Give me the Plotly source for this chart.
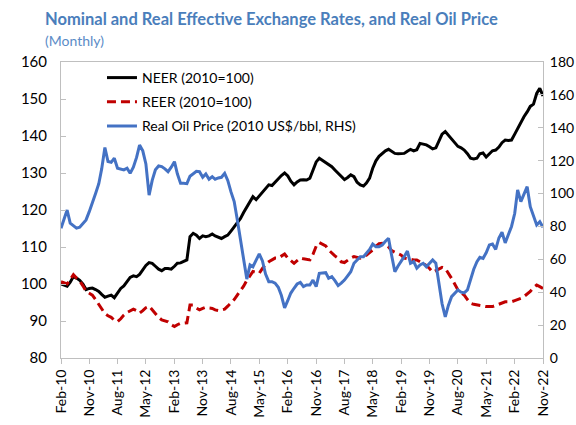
import pandas as pd
import plotly.graph_objects as go

months = pd.date_range("2010-02-01", periods=154, freq="MS")

neer = [100, 99.7, 99.4, 100.5, 102, 101.6, 101, 100, 98.5, 98.8,
        98.9, 98.5, 98, 97.2, 96.4, 96.7, 97, 96.3, 97.5, 98.8,
        99.5, 100.6, 101.8, 102.2, 102, 102.6, 103.8, 105, 105.8, 105.6,
        104.8, 104, 103.6, 104.2, 104.2, 104, 104.8, 105.6, 105.7, 106,
        106.5, 112.8, 113.7, 113.2, 112.3, 113, 112.8, 113, 113.5, 113,
        112.6, 112.3, 112.8, 113.2, 114.3, 115.5, 116.6, 117.7, 119.3, 120.9,
        122.5, 123.6, 122.8, 123.8, 124.7, 125.8, 126.8, 126.6, 127.5, 128.6,
        129.3, 130, 129.2, 127.8, 126.8, 127.6, 128.1, 128.2, 128.1, 128.6,
        131, 133, 134, 133.4, 132.6, 132.2, 131.7, 130.8, 130, 129,
        128.2, 128.8, 129.5, 129, 127.5, 126.8, 126.5, 127.3, 128.6, 131.3,
        133.3, 134.5, 135.3, 136, 136.4, 135.8, 135.3, 135.2, 135.3, 135.3,
        135.9, 136.4, 136, 136.3, 138, 137.8, 137.6, 137.1, 136.5, 136.8,
        138.5, 140.5, 141.2, 140.2, 139.4, 138.2, 137.2, 136.8, 136.2, 135.2,
        134, 133.8, 134, 135.2, 135.4, 134.3, 135.2, 136, 136.2, 137,
        138.2, 138.9, 138.8, 138.9, 140.5, 142, 143.8, 145.2, 146.5, 148,
        148.6, 151.5, 152.9, 150.8]

reer = [100.6, 100.3, 100, 101.2, 102.5, 101.6, 100.8, 99.5, 98, 97.5,
        97, 95.8, 94.5, 93, 92, 91.4, 91, 90.2, 89.8, 90.6,
        91.6, 92.3, 92.8, 93.2, 92.8, 92.1, 92.8, 93.6, 94, 93,
        92.1, 91, 90.3, 90, 89.8, 89, 88.5, 89, 89.4, 89.4,
        89.5, 94.3, 94.3, 93.5, 93, 93.4, 93.7, 93.5, 93.4, 93,
        92.8, 93, 93.2, 94, 94.8, 95.8, 97, 98.2, 99.4, 101,
        102.4, 103.4, 103.2, 102.9, 104.2, 105.3, 106, 106.6, 107, 107,
        107.5, 108.1, 107, 106.3, 105.6, 106.3, 107, 106.8, 106.6, 106.5,
        108, 110.2, 111.2, 110.8, 110.3, 109.2, 108.3, 107.6, 107, 106,
        105.8, 106.5, 107, 107.4, 107.2, 107, 107.4, 107.8, 108.5, 109.2,
        110.2, 110.9, 111, 110.5, 110, 109, 108.6, 108.4, 107.8, 107,
        106.8, 106.5, 106.5, 106.5, 106, 105.6, 105, 104.2, 103.2, 103.6,
        104, 104.5, 104.2, 103, 101.5, 100, 98.4, 97.6, 97, 95.8,
        94.8, 94.5, 94.3, 94.1, 93.9, 93.9, 93.9, 93.9, 94.2, 94.5,
        94.9, 95.2, 95.2, 95.2, 95.5, 95.7, 96.1, 96.6, 97.3, 98,
        99, 99.7, 99.3, 98.8]

oil = [78.9, 84, 90, 82, 80.5, 79, 79.5, 81.5, 84, 89,
       94, 100, 106, 115, 128, 119.5, 119, 121.5, 115.4, 114.8,
       114.4, 115.4, 112.3, 116, 122, 129.5, 126, 118, 99, 108,
       114.5, 116.8, 116.4, 115, 113.3, 116, 119.4, 112, 106.2, 106.2,
       106, 110.5, 112.3, 113.5, 113.3, 109.9, 111.9, 108.7, 110.3, 108.7,
       109.5, 109.9, 112.3, 108, 101, 95.1, 84, 72, 60, 48,
       56.6, 55.5, 59.5, 63.3, 59, 51, 46.4, 46.4, 45.5, 43,
       38, 30.5, 35, 39.5, 42.4, 45, 46, 43.4, 44.4, 44.4,
       47.4, 43.4, 51.5, 51.5, 51.9, 48.5, 49.5, 47, 44, 45.5,
       47.4, 50, 52.5, 57.6, 59.6, 61.6, 61.6, 63.7, 66, 69.3,
       67.7, 67.7, 68.7, 71, 72.8, 62, 52.5, 56, 58.6, 61.6,
       65, 57.6, 58.6, 54.6, 56.6, 57.6, 55.5, 57.6, 59.6, 57.6,
       45.4, 33, 25, 32, 37.3, 39.5, 41.4, 40, 39.6, 41.4,
       48, 54, 58.6, 61.2, 60.6, 64, 68.7, 69.3, 66, 73,
       76.5, 70, 75, 80, 88, 102.2, 95.1, 100, 104.2, 92,
       86, 80.9, 82.9, 79.5]

names = ["NEER (2010=100)", "REER (2010=100)", "Real Oil Price (2010 US$/bbl, RHS)"]
title_text = "Nominal and Real Effective Exchange Rates, and Real Oil Price"
subtitle_text = "(Monthly)"

FONT = "Lato, 'Liberation Sans', sans-serif"
AX = "#bfbfbf"

fig = go.Figure()
fig.add_trace(go.Scatter(x=months, y=neer, name=names[0], mode="lines", legendgroup="a",
                         line=dict(color="#000000", width=3)))
fig.add_trace(go.Scatter(x=months, y=reer, name=names[1], mode="lines", legendgroup="b",
                         line=dict(color="#c00000", width=3, dash="9px,5px")))
fig.add_trace(go.Scatter(x=months, y=oil, name=names[2], mode="lines", yaxis="y2",
                         legendgroup="c", line=dict(color="#4472c4", width=3)))

fig.update_layout(
    width=576, height=425,
    margin=dict(l=61, r=33, t=62, b=67, autoexpand=False),
    paper_bgcolor="white", plot_bgcolor="white",
    font=dict(family=FONT, size=14, color="#000000"),
    showlegend=True,
    legend=dict(x=0.085, y=1.0, xanchor="left", yanchor="top",
                bgcolor="rgba(0,0,0,0)", font=dict(size=14, family=FONT),
                tracegroupgap=3),
    xaxis=dict(type="date", automargin=False,
               range=[months[0], months[-1]],
               tick0=months[0], dtick="M9", tickformat="%b-%y",
               tickangle=-90, ticks="outside", ticklen=5, tickcolor=AX,
               showline=True, linecolor=AX, linewidth=1, mirror=True,
               showgrid=False, zeroline=False,
               tickfont=dict(size=14, family=FONT)),
    yaxis=dict(range=[80, 160], dtick=10, ticks="inside", ticklen=5, tickcolor=AX,
               automargin=False,
               showline=True, linecolor=AX, linewidth=1,
               showgrid=False, zeroline=False, ticklabelstandoff=10,
               tickfont=dict(size=15, family=FONT)),
    yaxis2=dict(range=[0, 180], dtick=20, overlaying="y", side="right",
                automargin=False,
                ticks="inside", ticklen=5, tickcolor=AX,
                showline=True, linecolor=AX, linewidth=1,
                showgrid=False, zeroline=False, ticklabelstandoff=3,
                tickfont=dict(size=14, family=FONT)),
    annotations=[
        dict(text="<b>" + title_text + "</b>", xref="paper", yref="paper",
             x=-0.0373, y=1.145, xanchor="left", yanchor="middle", showarrow=False,
             font=dict(size=16.5, color="#4a7ebb", family=FONT)),
        dict(text=subtitle_text, xref="paper", yref="paper",
             x=-0.0373, y=1.074, xanchor="left", yanchor="middle", showarrow=False,
             font=dict(size=14, color="#5b8cc7", family=FONT)),
    ],
)

fig.write_html("out.html", config={"displayModeBar": False},
               post_script="document.body.style.margin='0';")
